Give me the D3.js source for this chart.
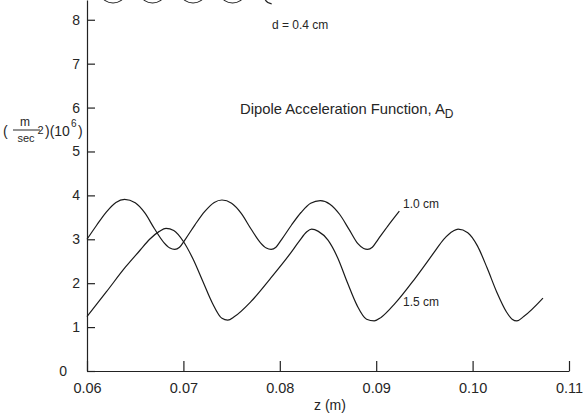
<!DOCTYPE html>
<html>
<head>
<meta charset="utf-8">
<script src="https://cdn.jsdelivr.net/npm/d3@7"></script>
<style>
    body { margin: 0; background: #fff; }
    svg { display: block; }
    text { font-family: "Liberation Sans", Arial, sans-serif; fill: #262626; }
</style>
</head>
<body>
<svg id="chart" width="586" height="414"></svg>
<script>
// tick labels
const xTicks = [0.06, 0.07, 0.08, 0.09, 0.10, 0.11];
const xTickLabels = ["0.06", "0.07", "0.08", "0.09", "0.10", "0.11"];
const yTicks = [0, 1, 2, 3, 4, 5, 6, 7, 8];

// d = 1.0 cm curve
const z10 = [0.0600, 0.0610, 0.0620, 0.0630, 0.0639, 0.0650, 0.0660, 0.0670, 0.0680, 0.0686, 0.0691, 0.0696,
             0.0702, 0.0712, 0.0722, 0.0732, 0.0740, 0.0750, 0.0760, 0.0770, 0.0780, 0.0786, 0.0791, 0.0796,
             0.0802, 0.0812, 0.0822, 0.0832, 0.0842, 0.0852, 0.0862, 0.0872, 0.0881, 0.0887, 0.0891, 0.0896,
             0.0902, 0.0912, 0.0924];
const a10 = [3.00, 3.32, 3.62, 3.84, 3.91, 3.83, 3.60, 3.24, 2.92, 2.80, 2.77, 2.82,
             3.00, 3.33, 3.63, 3.84, 3.895, 3.82, 3.59, 3.24, 2.92, 2.80, 2.77, 2.82,
             3.00, 3.32, 3.61, 3.82, 3.88, 3.80, 3.57, 3.22, 2.90, 2.79, 2.77, 2.82,
             3.00, 3.30, 3.64];

// d = 1.5 cm curve
const z15 = [0.0600, 0.0620, 0.0640, 0.0655, 0.0665, 0.0675, 0.0682, 0.0690, 0.0700, 0.0710, 0.0720, 0.0730,
             0.0740, 0.0746, 0.0753, 0.0770, 0.0790, 0.0810, 0.0820, 0.0828, 0.0833, 0.0840, 0.0850, 0.0860,
             0.0870, 0.0880, 0.0890, 0.0898, 0.0905, 0.0920, 0.0940, 0.0960, 0.0970, 0.0980, 0.0985, 0.0995,
             0.1005, 0.1015, 0.1025, 0.1035, 0.1041, 0.1046, 0.1053, 0.1073];
const a15 = [1.24, 1.80, 2.37, 2.75, 3.00, 3.18, 3.25, 3.20, 2.95, 2.55, 2.05, 1.55,
             1.20, 1.16, 1.24, 1.58, 2.10, 2.65, 2.95, 3.17, 3.23, 3.18, 2.98, 2.58,
             2.02, 1.50, 1.18, 1.14, 1.22, 1.55, 2.10, 2.70, 3.00, 3.19, 3.23, 3.15,
             2.85, 2.35, 1.80, 1.35, 1.18, 1.14, 1.24, 1.66];

// loop sketch along the top edge
const loopZ = [0.0627, 0.0668, 0.0710, 0.0751];
const lastLoopZ = 0.0793;

const svg = d3.select("#chart");

const x = d3.scaleLinear().domain([0.06, 0.11]).range([87, 569]);
const y = d3.scaleLinear().domain([0, 8.45]).range([371, 0]);

// x axis, ticks pointing up
const xAxis = svg.append("g")
    .attr("transform", "translate(0," + y(0) + ")")
    .call(d3.axisBottom(x)
        .tickValues(xTicks)
        .tickFormat((d, i) => xTickLabels[i])
        .tickSizeInner(-10)
        .tickSizeOuter(0)
        .tickPadding(12));
xAxis.select(".domain").attr("stroke", "#222").attr("stroke-width", 1.2);
xAxis.selectAll(".tick line").attr("stroke", "#222").attr("stroke-width", 1.2);
xAxis.selectAll(".tick text").attr("font-size", 14.5).attr("fill", "#262626")
    .attr("font-family", "Liberation Sans, Arial, sans-serif");

// y axis, ticks pointing right
const yAxis = svg.append("g")
    .attr("transform", "translate(" + x(0.06) + ",0)")
    .call(d3.axisLeft(y)
        .tickValues(yTicks)
        .tickSizeInner(-8)
        .tickSizeOuter(0)
        .tickPadding(7));
yAxis.select(".domain").attr("stroke", "#222").attr("stroke-width", 1.2);
yAxis.selectAll(".tick line").attr("stroke", "#222").attr("stroke-width", 1.2);
yAxis.selectAll(".tick text").attr("font-size", 14).attr("fill", "#262626")
    .attr("font-family", "Liberation Sans, Arial, sans-serif")
    .attr("x", d => d === 0 ? -20 : -7);

// curves
const line = d3.line()
    .x(d => x(d[0]))
    .y(d => y(d[1]))
    .curve(d3.curveMonotoneX);

svg.append("path")
    .datum(z10.map((z, i) => [z, a10[i]]))
    .attr("d", line)
    .attr("fill", "none")
    .attr("stroke", "#1a1a1a")
    .attr("stroke-width", 1.2);

svg.append("path")
    .datum(z15.map((z, i) => [z, a15[i]]))
    .attr("d", line)
    .attr("fill", "none")
    .attr("stroke", "#1a1a1a")
    .attr("stroke-width", 1.2);

// loops cut off by the top edge
svg.selectAll(".loop")
    .data(loopZ)
    .enter()
    .append("ellipse")
        .attr("class", "loop")
        .attr("cx", d => x(d))
        .attr("cy", -5)
        .attr("rx", 11)
        .attr("ry", 8)
        .attr("fill", "none")
        .attr("stroke", "#222")
        .attr("stroke-width", 1.1);

svg.append("path")
    .attr("d", d3.arc()({innerRadius: 9, outerRadius: 9, startAngle: Math.PI * 1.05, endAngle: Math.PI * 1.45}))
    .attr("transform", "translate(" + x(lastLoopZ) + ",-5)")
    .attr("fill", "none")
    .attr("stroke", "#222")
    .attr("stroke-width", 1.1);

// curve labels
svg.append("text").attr("x", 403).attr("y", 208).attr("font-size", 12).text("1.0 cm");
svg.append("text").attr("x", 403).attr("y", 306).attr("font-size", 12).text("1.5 cm");

// annotations
svg.append("text").attr("x", 272).attr("y", 29).attr("font-size", 12).text("d = 0.4 cm");

const title = svg.append("text").attr("x", 240).attr("y", 114).attr("font-size", 14.8);
title.append("tspan").text("Dipole Acceleration Function, A");
title.append("tspan").attr("dy", 4).attr("font-size", 12).text("D");

svg.append("text").attr("x", 330).attr("y", 410).attr("font-size", 14)
    .attr("text-anchor", "middle").text("z (m)");

// y axis label: (m/sec^2)(10^6)
const yl = svg.append("g");
yl.append("text").attr("x", 3).attr("y", 136).attr("font-size", 14).text("(");
yl.append("text").attr("x", 25).attr("y", 126).attr("font-size", 12).attr("text-anchor", "middle").text("m");
yl.append("line").attr("x1", 13).attr("x2", 40).attr("y1", 130).attr("y2", 130)
    .attr("stroke", "#262626").attr("stroke-width", 1);
yl.append("text").attr("x", 26).attr("y", 142).attr("font-size", 11).attr("text-anchor", "middle").text("sec");
yl.append("text").attr("x", 37.5).attr("y", 134).attr("font-size", 11).text("2");
yl.append("text").attr("x", 45).attr("y", 136).attr("font-size", 14).text(")(10");
yl.append("text").attr("x", 71).attr("y", 127).attr("font-size", 10).text("6");
yl.append("text").attr("x", 78).attr("y", 136).attr("font-size", 14).text(")");
</script>
</body>
</html>
